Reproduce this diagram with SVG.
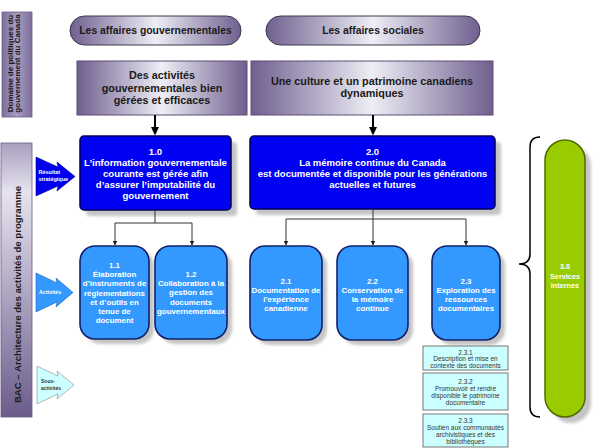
<svg xmlns="http://www.w3.org/2000/svg" width="595" height="448" viewBox="0 0 595 448">
<defs>
<linearGradient id="gPurpleH" x1="0" y1="0" x2="1" y2="0">
<stop offset="0" stop-color="#6f5f8f"/>
<stop offset="0.5" stop-color="#eeeef5"/>
<stop offset="1" stop-color="#6f5f8f"/>
</linearGradient>
<linearGradient id="gSideTop" x1="0" y1="0" x2="1" y2="0">
<stop offset="0" stop-color="#7d6e9c"/>
<stop offset="0.5" stop-color="#a89dbf"/>
<stop offset="1" stop-color="#7d6e9c"/>
</linearGradient>
<linearGradient id="gSideBot" x1="0" y1="0" x2="0" y2="1">
<stop offset="0" stop-color="#a99fbf"/>
<stop offset="0.18" stop-color="#e6e3ee"/>
<stop offset="1" stop-color="#6b5c8b"/>
</linearGradient>
<filter id="blur" x="-20%" y="-20%" width="140%" height="140%">
<feGaussianBlur stdDeviation="1.5"/>
</filter>
<marker id="ah" viewBox="0 0 10 10" refX="10" refY="5" markerWidth="5" markerHeight="5" orient="auto" markerUnits="userSpaceOnUse">
<path d="M0,0 L10,5 L0,10 z" fill="#222"/>
</marker>
</defs>
<style>
text{font-family:"Liberation Sans",Arial,sans-serif;}
.b{font-weight:bold;}
.dark{fill:#1a1a1a;}
.w{fill:#ffffff;font-weight:bold;text-anchor:middle;}
.mid{text-anchor:middle;}
.pill{fill:url(#gPurpleH);stroke:#3a3a4a;stroke-width:1;}
.pbox{fill:url(#gPurpleH);stroke:#5a4c78;stroke-width:1;}
.shadow{fill:#c4c4c4;filter:url(#blur);}
.blue{fill:#0000f2;stroke:#00005a;stroke-width:1.5;}
.act{fill:#3399ff;stroke:#12206a;stroke-width:1.6;}
.sub{fill:#ccffff;stroke:#777777;stroke-width:1;}
.subt{font-size:6.5px;fill:#333333;text-anchor:middle;}
.at{font-size:7.9px;}
.conn{stroke:#333;stroke-width:1;fill:none;}
.thick{stroke:#000;stroke-width:2;fill:none;}
</style>

<g id="sidebar-top">
<rect x="2" y="12" width="30" height="105" fill="url(#gSideTop)" stroke="#6a5c88" stroke-width="0.8"/>
<text class="b dark" font-size="8" text-anchor="middle" transform="translate(13,63.5) rotate(-90)">Domaine de politiques du</text>
<text class="b dark" font-size="8" text-anchor="middle" transform="translate(20,63.5) rotate(-90)">gouvernement du  Canada</text>
</g>

<g id="sidebar-bottom">
<rect x="1" y="143" width="31" height="274" fill="url(#gSideBot)" stroke="#6a5c88" stroke-width="0.8"/>
<text class="b dark" font-size="9.6" text-anchor="middle" transform="translate(20.5,294.5) rotate(-90)">BAC – Architecture des activités de programme</text>
</g>

<g id="arrow-resultat">
<polygon points="36,157 58,167 57,162 75,176.5 57,191 58,186 36,196" fill="#0000ee" stroke="#00008a" stroke-width="0.6"/>
<text class="b" font-size="5.5" fill="#fff" x="38.5" y="174">Résultat</text>
<text class="b" font-size="5.5" fill="#fff" x="38.5" y="181">stratégique</text>
</g>

<g id="arrow-activites">
<polygon points="36,273 57,283 56,278 73,292.5 56,307 57,302 36,312" fill="#3399ff" stroke="#1f5fb0" stroke-width="0.6"/>
<text class="b" font-size="5.3" fill="#fff" x="39" y="294">Activités</text>
</g>

<g id="arrow-sous-activites">
<polygon points="37,366 58,376 57,371 74,385 57,399 58,394 37,404" fill="#ccffff" stroke="#888" stroke-width="0.6"/>
<text class="b" font-size="5" fill="#333" x="41" y="383">Sous-</text>
<text class="b" font-size="5" fill="#333" x="41" y="389.5">activités</text>
</g>

<g id="pill-gouv">
<rect class="pill" x="70" y="16" width="171" height="29" rx="14.5"/>
<text class="b dark mid" font-size="10.4" x="155.5" y="34">Les affaires gouvernementales</text>
</g>

<g id="pill-sociales">
<rect class="pill" x="266" y="16" width="214" height="29" rx="14.5"/>
<text class="b dark mid" font-size="10.4" x="373" y="34">Les affaires sociales</text>
</g>

<g id="box-activites-gouv">
<rect class="pbox" x="77" y="61" width="170" height="54"/>
<text class="b dark mid" font-size="10.8" x="162" y="79">Des activités</text>
<text class="b dark mid" font-size="10.8" x="162" y="92">gouvernementales bien</text>
<text class="b dark mid" font-size="10.8" x="162" y="104">gérées et efficaces</text>
</g>

<g id="box-culture">
<rect class="pbox" x="251" y="61" width="242" height="54"/>
<text class="b dark mid" font-size="10.8" x="372" y="85">Une culture et un patrimoine canadiens</text>
<text class="b dark mid" font-size="10.8" x="372" y="97">dynamiques</text>
</g>

<g id="node-1-0">
<rect class="shadow" x="86" y="142" width="151" height="74" rx="4"/>
<rect class="blue" x="80" y="136" width="151" height="74" rx="4"/>
<text class="w" font-size="9.6" x="155.5" y="155">1.0</text>
<text class="w" font-size="9.6" x="155.5" y="166">L’information gouvernementale</text>
<text class="w" font-size="9.6" x="155.5" y="177">courante est gérée afin</text>
<text class="w" font-size="9.6" x="155.5" y="188">d’assurer l’imputabilité du</text>
<text class="w" font-size="9.6" x="155.5" y="199">gouvernement</text>
</g>

<g id="node-2-0">
<rect class="shadow" x="256" y="142" width="245" height="73" rx="4"/>
<rect class="blue" x="250" y="136" width="245" height="73" rx="4"/>
<text class="w" font-size="9.5" x="372.5" y="155">2.0</text>
<text class="w" font-size="9.5" x="372.5" y="166">La mémoire continue du Canada</text>
<text class="w" font-size="9.5" x="372.5" y="177">est documentée et disponible pour les générations</text>
<text class="w" font-size="9.5" x="372.5" y="188">actuelles et futures</text>
</g>

<g id="node-1-1">
<rect class="shadow" x="85" y="251" width="69" height="93" rx="15"/>
<rect class="act" x="80" y="246" width="69" height="93" rx="15"/>
<text class="w at" x="114.5" y="268">1.1</text>
<text class="w at" x="114.5" y="277.2">Élaboration</text>
<text class="w at" x="114.5" y="286.4">d’instruments de</text>
<text class="w at" x="114.5" y="295.6">réglementations</text>
<text class="w at" x="114.5" y="304.8">et  d’outils en</text>
<text class="w at" x="114.5" y="314">tenue de</text>
<text class="w at" x="114.5" y="323.2">document</text>
</g>

<g id="node-1-2">
<rect class="shadow" x="160" y="251" width="72" height="93" rx="15"/>
<rect class="act" x="155" y="246" width="72" height="93" rx="15"/>
<text class="w at" x="191" y="277">1.2</text>
<text class="w at" x="191" y="286.2">Collaboration à la</text>
<text class="w at" x="191" y="295.4">gestion des</text>
<text class="w at" x="191" y="304.6">documents</text>
<text class="w at" x="191" y="313.8">gouvernementaux</text>
</g>

<g id="node-2-1">
<rect class="shadow" x="255" y="251" width="72" height="94" rx="15"/>
<rect class="act" x="250" y="246" width="72" height="94" rx="15"/>
<text class="w at" x="286" y="283.5">2.1</text>
<text class="w at" x="286" y="292.5">Documentation de</text>
<text class="w at" x="286" y="301.5">l’expérience</text>
<text class="w at" x="286" y="310.5">canadienne</text>
</g>

<g id="node-2-2">
<rect class="shadow" x="342" y="251" width="71" height="94" rx="15"/>
<rect class="act" x="337" y="246" width="71" height="94" rx="15"/>
<text class="w at" x="372.5" y="283.5">2.2</text>
<text class="w at" x="372.5" y="292.5">Conservation de</text>
<text class="w at" x="372.5" y="301.5">la mémoire</text>
<text class="w at" x="372.5" y="310.5">continue</text>
</g>

<g id="node-2-3">
<rect class="shadow" x="437" y="251" width="68" height="94" rx="15"/>
<rect class="act" x="432" y="246" width="68" height="94" rx="15"/>
<text class="w at" x="466" y="283.5">2.3</text>
<text class="w at" x="466" y="292.5">Exploration des</text>
<text class="w at" x="466" y="301.5">ressources</text>
<text class="w at" x="466" y="310.5">documentaires</text>
</g>

<g id="node-2-3-1">
<rect class="sub" x="423" y="346" width="85" height="24"/>
<text class="subt" x="465.5" y="354.5">2.3.1</text>
<text class="subt" x="465.5" y="361">Description et mise en</text>
<text class="subt" x="465.5" y="367.5">contexte des documents</text>
</g>

<g id="node-2-3-2">
<rect class="sub" x="423" y="373" width="85" height="37"/>
<text class="subt" x="465.5" y="383.5">2.3.2</text>
<text class="subt" x="465.5" y="390.5">Promouvoir et rendre</text>
<text class="subt" x="465.5" y="397.5">disponible le patrimoine</text>
<text class="subt" x="465.5" y="404.5">documentaire</text>
</g>

<g id="node-2-3-3">
<rect class="sub" x="423" y="414" width="85" height="33"/>
<text class="subt" x="465.5" y="422.5">2.3.3</text>
<text class="subt" x="465.5" y="429.5">Soutien aux communautés</text>
<text class="subt" x="465.5" y="436.5">archivistiques et des</text>
<text class="subt" x="465.5" y="443.5">bibliothèques</text>
</g>

<g id="node-3-0">
<rect class="shadow" x="551" y="146" width="40" height="277" rx="20"/>
<rect x="545" y="140" width="40" height="277" rx="20" fill="#99cc00" stroke="#4f6b00" stroke-width="1.5"/>
<text class="w" font-size="7.3" x="565" y="269">3.0</text>
<text class="w" font-size="7.3" x="565" y="278.5">Services</text>
<text class="w" font-size="7.3" x="565" y="288">internes</text>
</g>

<g id="brace">
<path d="M540,137 Q530,137 530,147 L530,254 Q530,264 519,264 Q530,264 530,274 L530,407 Q530,417 540,417" fill="none" stroke="#000" stroke-width="1.5"/>
</g>

<g id="connectors">
<line class="thick" x1="155" y1="115" x2="155" y2="128"/>
<polygon points="151,127 159,127 155,135.5" fill="#000"/>
<line class="thick" x1="373" y1="115" x2="373" y2="128"/>
<polygon points="369,127 377,127 373,135.5" fill="#000"/>
<polyline class="conn" points="155,210 155,223"/>
<polyline class="conn" points="115,223 192,223"/>
<line class="conn" x1="115" y1="223" x2="115" y2="245.5" marker-end="url(#ah)"/>
<line class="conn" x1="192" y1="223" x2="192" y2="245.5" marker-end="url(#ah)"/>
<polyline class="conn" points="373,209 373,219"/>
<polyline class="conn" points="286,219 466,219"/>
<line class="conn" x1="286" y1="219" x2="286" y2="245.5" marker-end="url(#ah)"/>
<line class="conn" x1="373" y1="219" x2="373" y2="245.5" marker-end="url(#ah)"/>
<line class="conn" x1="466" y1="219" x2="466" y2="245.5" marker-end="url(#ah)"/>
</g>
</svg>
